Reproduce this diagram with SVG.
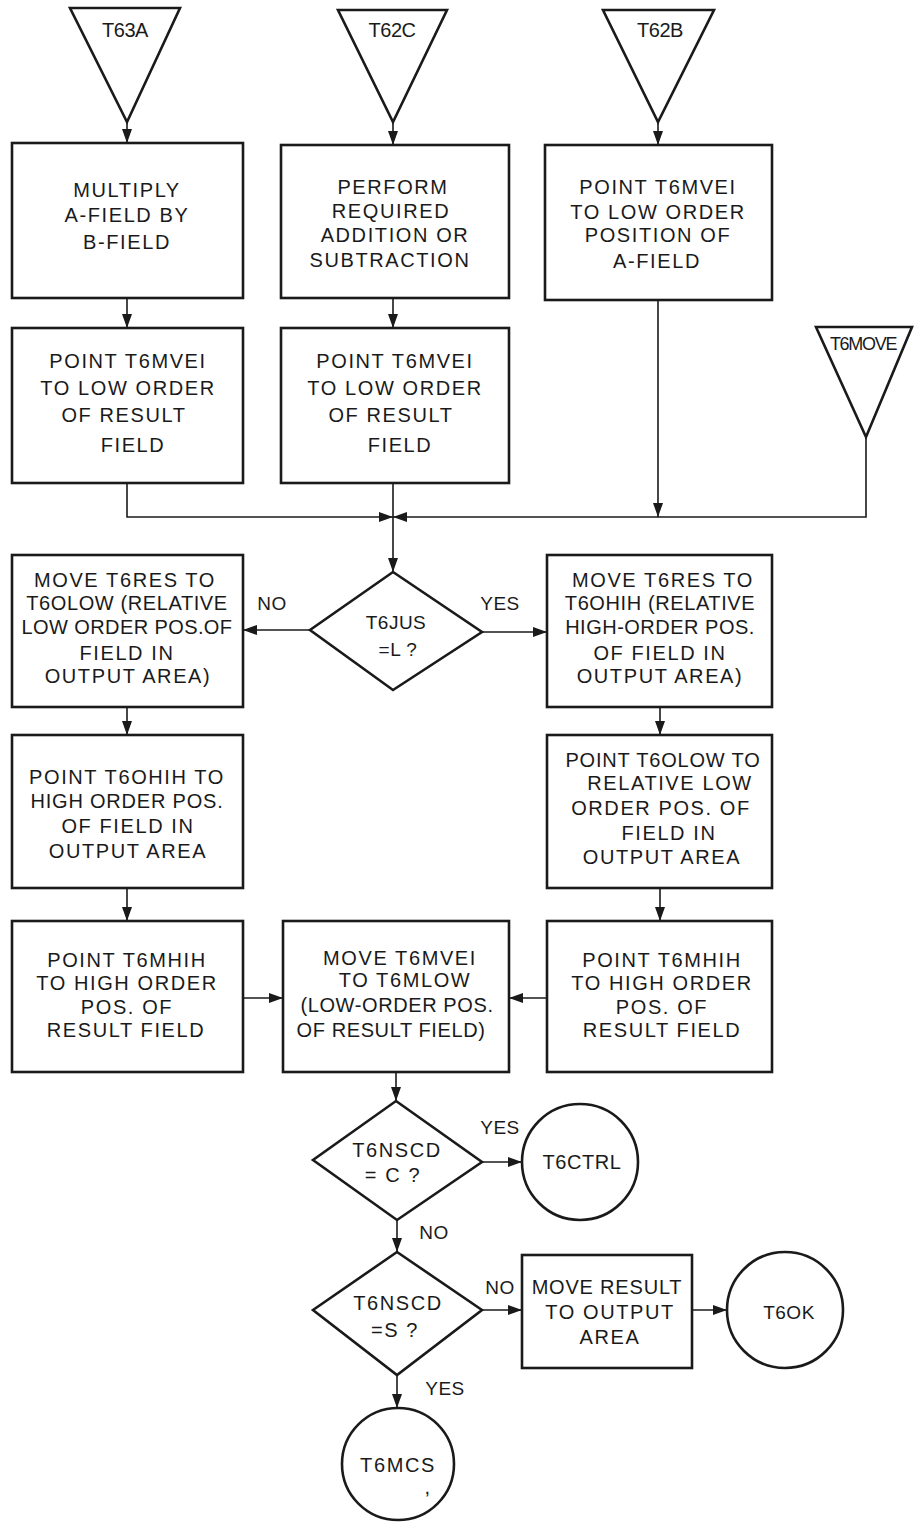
<svg xmlns="http://www.w3.org/2000/svg" width="915" height="1522" viewBox="0 0 915 1522">
<defs>
<marker id="ah" markerUnits="userSpaceOnUse" markerWidth="15" markerHeight="12" refX="14" refY="5" orient="auto">
<path d="M0,0 L14,5 L0,10 Z" fill="#1a1a1a"/>
</marker>
<style>
.b{fill:#fff;stroke:#1a1a1a;stroke-width:2.6}
.c{fill:none;stroke:#1a1a1a;stroke-width:1.6}
.ca{fill:none;stroke:#1a1a1a;stroke-width:1.6;marker-end:url(#ah)}
text{font-family:"Liberation Sans",Arial,sans-serif;font-size:20px;fill:#1a1a1a;text-anchor:middle;letter-spacing:1.6px}
.t{font-size:20px;letter-spacing:-0.5px}
.l{font-size:19px;letter-spacing:0.5px}
</style>
</defs>
<rect width="915" height="1522" fill="#fff"/>

<g id="connectors">
<line class="ca" x1="127" y1="122" x2="127" y2="143"/>
<line class="ca" x1="393" y1="122" x2="393" y2="145"/>
<line class="ca" x1="658" y1="122" x2="658" y2="145"/>
<line class="ca" x1="127" y1="298" x2="127" y2="328"/>
<line class="ca" x1="393" y1="298" x2="393" y2="328"/>
<polyline class="ca" points="127,483 127,517 393,517"/>
<polyline class="ca" points="866,437 866,517 393,517"/>
<line class="ca" x1="658" y1="300" x2="658" y2="517"/>
<line class="ca" x1="393" y1="483" x2="393" y2="572"/>
<line class="ca" x1="310" y1="630" x2="243" y2="630"/>
<line class="ca" x1="482" y1="632" x2="547" y2="632"/>
<line class="ca" x1="127" y1="707" x2="127" y2="735"/>
<line class="ca" x1="660" y1="707" x2="660" y2="735"/>
<line class="ca" x1="127" y1="888" x2="127" y2="921"/>
<line class="ca" x1="660" y1="888" x2="660" y2="921"/>
<line class="ca" x1="243" y1="998" x2="283" y2="998"/>
<line class="ca" x1="547" y1="998" x2="509" y2="998"/>
<line class="ca" x1="396" y1="1072" x2="396" y2="1101"/>
<line class="ca" x1="482" y1="1162" x2="522" y2="1162"/>
<line class="ca" x1="397" y1="1220" x2="397" y2="1252"/>
<line class="ca" x1="482" y1="1310" x2="522" y2="1310"/>
<line class="ca" x1="692" y1="1310" x2="727" y2="1310"/>
<line class="ca" x1="397" y1="1375" x2="397" y2="1408"/>
<text class="l" x="272" y="610">NO</text>
<text class="l" x="500" y="610">YES</text>
<text class="l" x="500" y="1134">YES</text>
<text class="l" x="434" y="1239">NO</text>
<text class="l" x="500" y="1294">NO</text>
<text class="l" x="445" y="1395">YES</text>
</g>

<g id="T63A"><polygon class="b" points="70,8 180,8 127,122"/><text class="t" x="125" y="37">T63A</text></g>
<g id="T62C"><polygon class="b" points="338,10 447,10 393,122"/><text class="t" x="392" y="37">T62C</text></g>
<g id="T62B"><polygon class="b" points="603,10 714,10 658,122"/><text class="t" x="660" y="37">T62B</text></g>
<g id="T6MOVE"><polygon class="b" points="816,327 912,327 866,437"/><text class="t" x="863" y="350" style="letter-spacing:-1.3px;font-size:18px">T6MOVE</text></g>

<g id="multiply"><rect class="b" x="12" y="143" width="231" height="155"/>
<text x="127" y="197">MULTIPLY</text><text x="127" y="222">A-FIELD BY</text><text x="127" y="249">B-FIELD</text></g>
<g id="perform"><rect class="b" x="281" y="145" width="228" height="153"/>
<text x="393" y="194">PERFORM</text><text x="391" y="218">REQUIRED</text><text x="395" y="242">ADDITION OR</text><text x="390" y="267">SUBTRACTION</text></g>
<g id="pointA"><rect class="b" x="545" y="145" width="227" height="155"/>
<text x="658" y="194">POINT T6MVEI</text><text x="658" y="219">TO LOW ORDER</text><text x="658" y="242">POSITION OF</text><text x="657" y="268">A-FIELD</text></g>

<g id="pointRes1"><rect class="b" x="12" y="328" width="231" height="155"/>
<text x="128" y="368">POINT T6MVEI</text><text x="128" y="395">TO LOW ORDER</text><text x="124" y="422">OF RESULT</text><text x="133" y="452">FIELD</text></g>
<g id="pointRes2"><rect class="b" x="281" y="328" width="228" height="155"/>
<text x="395" y="368">POINT T6MVEI</text><text x="395" y="395">TO LOW ORDER</text><text x="391" y="422">OF RESULT</text><text x="400" y="452">FIELD</text></g>

<g id="T6JUS"><polygon class="b" points="393,572 482,632 393,690 310,630"/>
<text x="396" y="629" class="l">T6JUS</text><text x="398" y="656" class="l">=L ?</text></g>

<g id="moveLow"><rect class="b" x="12" y="555" width="231" height="152"/>
<text x="125" y="587">MOVE T6RES TO</text><text x="127" y="610" style="letter-spacing:0.6px">T6OLOW (RELATIVE</text><text x="127" y="634" style="letter-spacing:0.4px">LOW ORDER POS.OF</text><text x="127" y="660">FIELD IN</text><text x="128" y="683">OUTPUT AREA)</text></g>
<g id="moveHigh"><rect class="b" x="547" y="555" width="225" height="152"/>
<text x="663" y="587">MOVE T6RES TO</text><text x="660" y="610" style="letter-spacing:0.6px">T6OHIH (RELATIVE</text><text x="660" y="634" style="letter-spacing:0.5px">HIGH-ORDER POS.</text><text x="660" y="660">OF FIELD IN</text><text x="660" y="683">OUTPUT AREA)</text></g>

<g id="pointOHIH"><rect class="b" x="12" y="735" width="231" height="153"/>
<text x="127" y="784">POINT T6OHIH TO</text><text x="127" y="808" style="letter-spacing:0.8px">HIGH ORDER POS.</text><text x="128" y="833">OF FIELD IN</text><text x="128" y="858">OUTPUT AREA</text></g>
<g id="pointOLOW"><rect class="b" x="547" y="735" width="225" height="153"/>
<text x="663" y="767" style="letter-spacing:0.8px">POINT T6OLOW TO</text><text x="670" y="790">RELATIVE LOW</text><text x="661" y="815">ORDER POS. OF</text><text x="669" y="840">FIELD IN</text><text x="662" y="864">OUTPUT AREA</text></g>

<g id="pointMHIH1"><rect class="b" x="12" y="921" width="231" height="151"/>
<text x="127" y="967">POINT T6MHIH</text><text x="127" y="990">TO HIGH ORDER</text><text x="127" y="1014">POS. OF</text><text x="126" y="1037">RESULT FIELD</text></g>
<g id="moveMVEI"><rect class="b" x="283" y="921" width="226" height="151"/>
<text x="400" y="965">MOVE T6MVEI</text><text x="405" y="987">TO T6MLOW</text><text x="397" y="1012" style="letter-spacing:0.6px">(LOW-ORDER POS.</text><text x="391" y="1037" style="letter-spacing:0.6px">OF RESULT FIELD)</text></g>
<g id="pointMHIH2"><rect class="b" x="547" y="921" width="225" height="151"/>
<text x="662" y="967">POINT T6MHIH</text><text x="662" y="990">TO HIGH ORDER</text><text x="662" y="1014">POS. OF</text><text x="662" y="1037">RESULT FIELD</text></g>

<g id="T6NSCD_C"><polygon class="b" points="396,1101 482,1162 397,1220 313,1160"/>
<text x="397" y="1157">T6NSCD</text><text x="393" y="1182">= C ?</text></g>
<g id="T6CTRL"><circle class="b" cx="580" cy="1162" r="58"/><text x="582" y="1169" style="letter-spacing:0.6px">T6CTRL</text></g>

<g id="T6NSCD_S"><polygon class="b" points="397,1252 482,1310 397,1375 313,1310"/>
<text x="398" y="1310">T6NSCD</text><text x="395" y="1337">=S ?</text></g>
<g id="moveResult"><rect class="b" x="522" y="1255" width="170" height="113"/>
<text x="607" y="1294" style="letter-spacing:0.8px">MOVE RESULT</text><text x="610" y="1319">TO OUTPUT</text><text x="610" y="1344">AREA</text></g>
<g id="T6OK"><circle class="b" cx="785" cy="1310" r="58"/><text x="789" y="1319" class="l">T6OK</text></g>

<g id="T6MCS"><circle class="b" cx="398" cy="1464" r="56"/><text x="398" y="1472">T6MCS</text><text x="428" y="1494">,</text></g>
</svg>
